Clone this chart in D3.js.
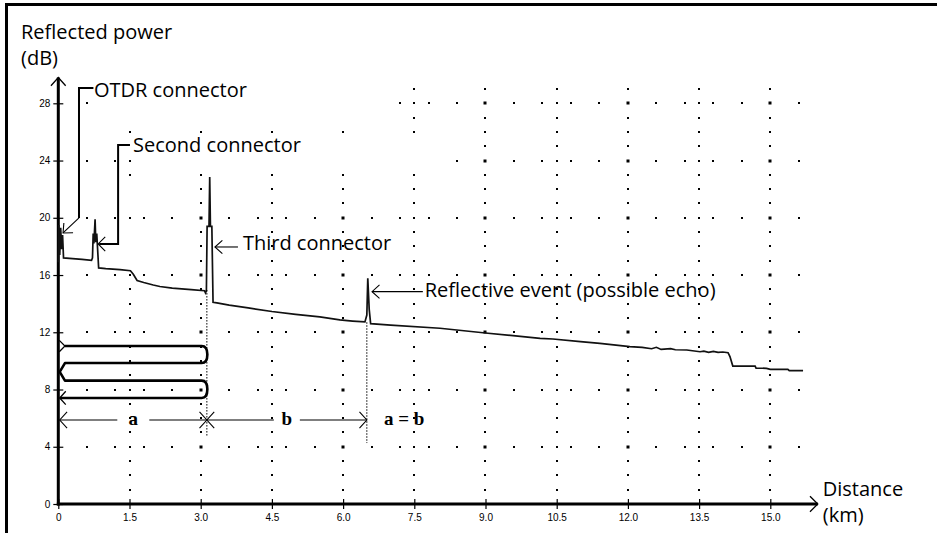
<!DOCTYPE html>
<html>
<head>
<meta charset="utf-8">
<script src="https://cdn.jsdelivr.net/npm/d3@7"></script>
<style>
  html, body { margin: 0; padding: 0; background: #fff; }
  svg { display: block; }
</style>
</head>
<body>
<script>
// ---------------- DATA ----------------
const xTicks = [0, 1.5, 3.0, 4.5, 6.0, 7.5, 9.0, 10.5, 12.0, 13.5, 15.0];
const xTickLabels = ["0", "1.5", "3.0", "4.5", "6.0", "7.5", "9.0", "10.5", "12.0", "13.5", "15.0"];
const yTicks = [0, 4, 8, 12, 16, 20, 24, 28];
const yTickLabels = ["0", "4", "8", "12", "16", "20", "24", "28"];

// OTDR trace: [distance km, reflected power dB]
const traceKm = [0.00, 0.01, 0.03, 0.05, 0.07, 0.09, 0.11, 0.30, 0.50, 0.70, 0.72, 0.735, 0.75, 0.775, 0.79, 0.81, 0.85,
  1.00, 1.30, 1.52, 1.58, 1.66, 1.80, 2.00, 2.14, 2.40, 2.80, 3.08, 3.10, 3.12, 3.135, 3.175, 3.19, 3.205, 3.235, 3.26,
  3.34, 3.60, 4.00, 4.50, 5.00, 5.51, 5.93, 6.20, 6.46, 6.50, 6.52, 6.55, 6.58, 7.00, 8.04, 9.00, 10.15, 10.42, 11.00,
  11.41, 12.04, 12.30, 12.50, 12.60, 12.70, 12.90, 13.00, 13.24, 13.52, 13.60, 13.70, 13.80, 13.90, 14.00, 14.11, 14.15,
  14.21, 14.68, 14.70, 14.92, 15.00, 15.37, 15.40, 15.69];
const traceDb = [16.9, 19.5, 17.4, 19.3, 17.8, 18.8, 17.2, 17.15, 17.1, 17.02, 17.2, 18.9, 18.2, 19.9, 18.3, 18.9, 16.5,
  16.45, 16.38, 16.3, 16.05, 15.62, 15.48, 15.3, 15.2, 15.08, 14.98, 14.9, 14.75, 14.9, 19.4, 19.4, 22.85, 19.4, 19.4, 14.1,
  14.05, 13.9, 13.7, 13.45, 13.25, 13.07, 12.86, 12.78, 12.72, 13.2, 15.77, 13.6, 12.6, 12.5, 12.28, 11.95, 11.58, 11.53, 11.35,
  11.23, 11.0, 10.95, 10.85, 10.95, 10.8, 10.85, 10.78, 10.76, 10.64, 10.68, 10.6, 10.66, 10.6, 10.62, 10.57, 10.3,
  9.64, 9.64, 9.5, 9.48, 9.41, 9.41, 9.32, 9.32];

// Grid definition
const gridRowsDb = [4, 8, 12, 16, 20, 24, 28];
const gridRowStepKm = 0.6;
const gridRowMaxKm = 15.6;
const gridColsKm = [1.5, 3.0, 4.5, 6.0, 7.5, 9.0, 10.5, 12.0, 13.5, 15.0];
const gridColMaxDb = 29;
// regions [km0, km1, dB0, dB1] where the original grid is blank
const gridGaps = [[1.0, 7.1, 26.5, 29.5], [1.6, 8.1, 23.5, 25.5], [1.4, 1.6, 24.5, 25.5],
  [1.4, 1.6, 16.5, 19.5], [1.4, 1.6, 20.5, 22.5]];

// Callout labels
const callouts = ["OTDR connector", "Second connector", "Third connector", "Reflective event (possible echo)"];

// ---------------- LAYOUT ----------------
const W = 937, H = 533;
const svg = d3.select("body").append("svg").attr("width", W).attr("height", H);
svg.append("rect").attr("width", W).attr("height", H).attr("fill", "#fff");

const x = d3.scaleLinear().domain([0, 15]).range([58.3, 770.3]);
const y = d3.scaleLinear().domain([0, 28]).range([504, 103.3]);

const FONT = "'Open Sans', 'Noto Sans', sans-serif";
const TICKFONT = "'Liberation Sans', Arial, sans-serif";
const SERIF = "'Liberation Serif', 'DejaVu Serif', serif";

// frame (left and top)
svg.append("rect").attr("x", 5).attr("y", 3).attr("width", 3).attr("height", H - 3).attr("fill", "#000");
svg.append("rect").attr("x", 5).attr("y", 3).attr("width", W - 5).attr("height", 3).attr("fill", "#000");

// ---------------- GRID DOTS ----------------
const dotMap = new Map();
function addDot(km, db) {
  const key = km.toFixed(2) + "|" + db.toFixed(2);
  const e = dotMap.get(key);
  if (e) e.n++; else dotMap.set(key, {km, db, n: 1});
}
gridRowsDb.forEach(db => {
  for (let k = 1; k * gridRowStepKm <= gridRowMaxKm + 1e-6; k++) addDot(Math.round(k * gridRowStepKm * 100) / 100, db);
});
gridColsKm.forEach(km => {
  for (let db = 1; db <= gridColMaxDb; db++) addDot(km, db);
});
const inGap = d => gridGaps.some(g => d.km >= g[0] && d.km <= g[1] && d.db >= g[2] && d.db <= g[3]);
const dots = Array.from(dotMap.values()).filter(d => !inGap(d));
svg.append("g").selectAll("rect").data(dots).join("rect")
  .attr("x", d => Math.round(x(d.km)) - (d.n > 1 ? 1.5 : 1))
  .attr("y", d => Math.round(y(d.db)) - (d.n > 1 ? 1.5 : 1))
  .attr("width", d => d.n > 1 ? 3 : 2)
  .attr("height", d => d.n > 1 ? 3 : 2)
  .attr("fill", "#000");

// ---------------- AXES ----------------
function chevron(g, tx, ty, angleDeg, len, spread, width) {
  const a = angleDeg * Math.PI / 180, s = spread * Math.PI / 180;
  const p1 = [tx - len * Math.cos(a - s), ty - len * Math.sin(a - s)];
  const p2 = [tx - len * Math.cos(a + s), ty - len * Math.sin(a + s)];
  g.append("path").attr("d", `M${p1[0]},${p1[1]}L${tx},${ty}L${p2[0]},${p2[1]}`)
    .attr("fill", "none").attr("stroke", "#000").attr("stroke-width", width || 1.2);
}

const yAx = svg.append("g").attr("transform", `translate(${x(0)},0)`)
  .call(d3.axisLeft(y).tickValues(yTicks).tickFormat((d, i) => yTickLabels[i]).tickSize(5).tickPadding(3));
yAx.select(".domain").remove();
yAx.selectAll(".tick line").attr("x1", 5).attr("stroke", "#000").attr("stroke-width", 1.2);
yAx.selectAll(".tick text").attr("font-family", TICKFONT).attr("font-size", 10).attr("fill", "#000");

const xAx = svg.append("g").attr("transform", `translate(0,${y(0)})`)
  .call(d3.axisBottom(x).tickValues(xTicks).tickFormat((d, i) => xTickLabels[i]).tickSize(5).tickPadding(5));
xAx.select(".domain").remove();
xAx.selectAll(".tick line").attr("y1", -5).attr("stroke", "#000").attr("stroke-width", 1.2);
xAx.selectAll(".tick text").attr("font-family", TICKFONT).attr("font-size", 10).attr("fill", "#000");

// axis lines with open arrowheads
const yTop = y(29.8), xEnd = x(16.0);
svg.append("line").attr("x1", x(0)).attr("x2", x(0)).attr("y1", y(0) + 1.5).attr("y2", yTop)
  .attr("stroke", "#000").attr("stroke-width", 3);
chevron(svg, x(0), yTop, -90, 11, 42, 1.3);
svg.append("line").attr("x1", x(0) - 1.5).attr("x2", xEnd).attr("y1", y(0)).attr("y2", y(0))
  .attr("stroke", "#000").attr("stroke-width", 3);
chevron(svg, xEnd, y(0), 0, 11, 45, 1.3);

// axis titles
const title = svg.append("g").attr("font-family", FONT).attr("font-size", 20).attr("fill", "#000");
title.append("text").attr("x", 21).attr("y", 39).text("Reflected power");
title.append("text").attr("x", 21).attr("y", 65).text("(dB)");
title.append("text").attr("x", xEnd + 5).attr("y", 496).text("Distance");
title.append("text").attr("x", xEnd + 5).attr("y", 522).text("(km)");

// ---------------- FIBER SPOOL SYMBOL ----------------
const spool = svg.append("g").attr("fill", "none").attr("stroke", "#000").attr("stroke-width", 2.6)
  .attr("stroke-linejoin", "round");
const sL = x(0.14), sR = x(3.02), sTipL = x(0.03), sTipR = x(3.14);
const r1 = y(11.04), r2 = y(9.85), r3 = y(8.62), r4 = y(7.41);
spool.append("path").attr("d",
  `M${sL},${r1}H${sR}Q${sTipR},${r1} ${sTipR},${(r1 + r2) / 2}Q${sTipR},${r2} ${sR},${r2}H${sL}` +
  `L${sTipL},${(r2 + r3) / 2}L${sL},${r3}H${sR}Q${sTipR},${r3} ${sTipR},${(r3 + r4) / 2}Q${sTipR},${r4} ${sR},${r4}H${sTipL}`);
// start chevron and end arrow
chevron(svg, sL, r1, 0, 8, 45, 1.3);
chevron(svg, sTipL, r4, 180, 9, 48, 1.3);

// ---------------- TRACE ----------------
const trace = traceKm.map((k, i) => [k, traceDb[i]]);
svg.append("path").datum(trace)
  .attr("d", d3.line().x(d => x(d[0])).y(d => y(d[1])))
  .attr("fill", "none").attr("stroke", "#111").attr("stroke-width", 1.7).attr("stroke-linejoin", "miter");

// ---------------- DIMENSION MARKS ----------------
const dims = svg.append("g");
const dimY = y(5.87);
const aStart = x(0.03), aEnd = x(3.13), bEnd = x(6.5);
// dotted verticals
dims.append("line").attr("x1", aEnd).attr("x2", aEnd).attr("y1", y(14.95)).attr("y2", y(4.7))
  .attr("stroke", "#000").attr("stroke-width", 1).attr("stroke-dasharray", "1.5,1.5");
dims.append("line").attr("x1", bEnd).attr("x2", bEnd).attr("y1", y(12.7)).attr("y2", y(4.26))
  .attr("stroke", "#000").attr("stroke-width", 1).attr("stroke-dasharray", "1.5,1.5");

function dimLine(x0, x1, label, gap) {
  const c = (x0 + x1) / 2;
  dims.append("line").attr("x1", x0).attr("x2", c - gap).attr("y1", dimY).attr("y2", dimY)
    .attr("stroke", "#000").attr("stroke-width", 1.1);
  dims.append("line").attr("x1", c + gap).attr("x2", x1).attr("y1", dimY).attr("y2", dimY)
    .attr("stroke", "#000").attr("stroke-width", 1.1);
  chevron(dims, x0, dimY, 180, 11, 48, 1.1);
  chevron(dims, x1, dimY, 0, 11, 48, 1.1);
  dims.append("text").attr("x", c).attr("y", dimY + 5.5).attr("text-anchor", "middle")
    .attr("font-family", SERIF).attr("font-weight", "bold")
    .attr("font-size", 19).text(label);
}
dimLine(aStart, aEnd, "a", 16);
dimLine(aEnd, bEnd, "b", 13);
dims.append("text").attr("x", x(6.86)).attr("y", y(5.5)).attr("font-family", SERIF)
  .attr("font-weight", "bold").attr("font-size", 19).text("a = b");

// ---------------- CALLOUTS ----------------
const ann = svg.append("g").attr("font-family", FONT).attr("font-size", 20).attr("fill", "#000");
const leader = (d) => ann.append("path").attr("d", d).attr("fill", "none").attr("stroke", "#000").attr("stroke-width", 2);

// OTDR connector
leader(`M${x(0.74)},${y(29.07)}H${x(0.436)}V${y(19.99)}`);
svg.append("line").attr("x1", x(0.436)).attr("y1", y(19.99)).attr("x2", x(0.10)).attr("y2", y(18.94))
  .attr("stroke", "#000").attr("stroke-width", 1.1);
chevron(svg, x(0.10), y(18.94), 180 - Math.atan2(y(18.94) - y(19.99), x(0.436) - x(0.10)) * 180 / Math.PI, 10, 42, 1.1);
ann.append("text").attr("x", x(0.752)).attr("y", y(28.44)).text(callouts[0]);

// Second connector
leader(`M${x(1.51)},${y(25.09)}H${x(1.26)}V${y(18.17)}H${x(0.86)}`);
chevron(svg, x(0.84), y(18.17), 180, 10, 45, 1.1);
ann.append("text").attr("x", x(1.575)).attr("y", y(24.6)).text(callouts[1]);

// Third connector
svg.append("line").attr("x1", x(3.785)).attr("x2", x(3.30)).attr("y1", y(17.96)).attr("y2", y(17.96))
  .attr("stroke", "#000").attr("stroke-width", 1.1);
chevron(svg, x(3.30), y(17.96), 180, 10, 42, 1.1);
ann.append("text").attr("x", x(3.89)).attr("y", y(17.75)).text(callouts[2]);

// Reflective event
svg.append("line").attr("x1", x(7.68)).attr("x2", x(6.61)).attr("y1", y(14.84)).attr("y2", y(14.84))
  .attr("stroke", "#000").attr("stroke-width", 1.1);
chevron(svg, x(6.61), y(14.84), 180, 10, 42, 1.1);
ann.append("text").attr("x", x(7.72)).attr("y", y(14.47)).text(callouts[3]);
</script>
</body>
</html>
